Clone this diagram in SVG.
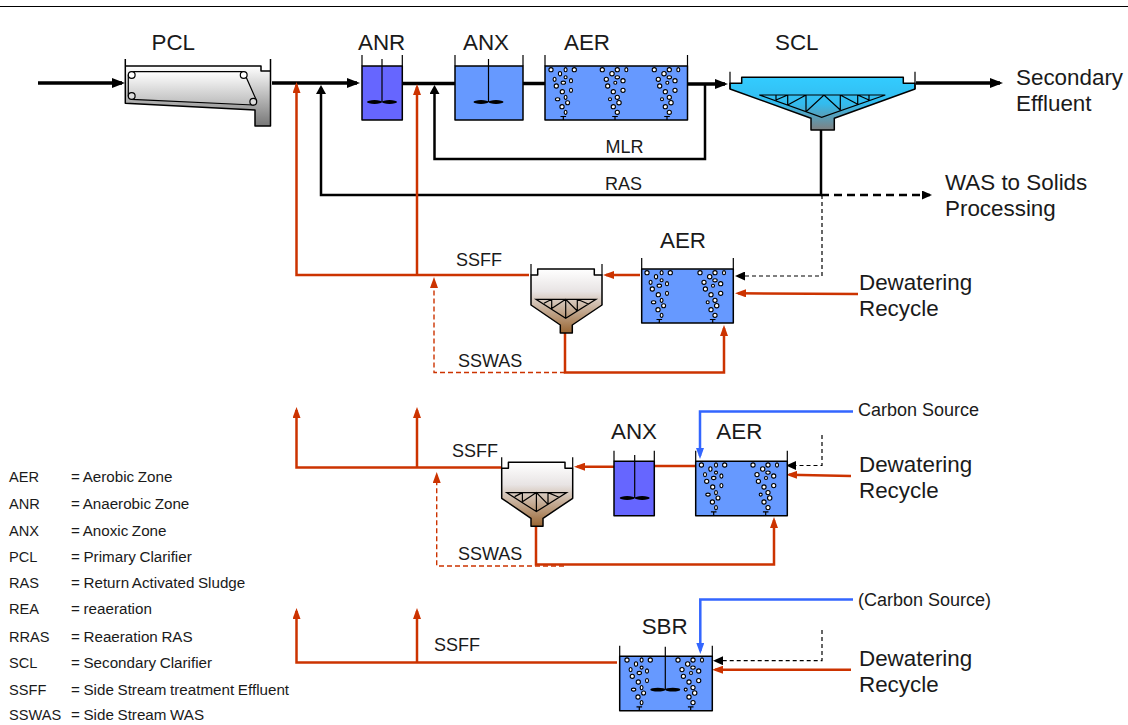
<svg xmlns="http://www.w3.org/2000/svg" width="1128" height="725" viewBox="0 0 1128 725">
<style>
text{font-family:"Liberation Sans",Arial,sans-serif;fill:#1a1a1a}
.t{font-size:22.4px}
.m{font-size:18px}
.l{font-size:14.6px}
.d{font-size:15.2px;word-spacing:-0.6px}
.wall{fill:none;stroke:#000;stroke-width:1.2}
.ol{stroke:#000;stroke-width:1.5;stroke-linejoin:round}
.tr{fill:none;stroke:#000;stroke-width:1.2}
.bl{fill:#fff;stroke:#000;stroke-width:1.1}
.k{fill:none;stroke:#000;stroke-width:3.5}
.k2{fill:none;stroke:#000;stroke-width:2.5}
.kd{fill:none;stroke:#000;stroke-width:2.5;stroke-dasharray:8 5}
.kt{fill:none;stroke:#000;stroke-width:1.2;stroke-dasharray:4 3}
.r{fill:none;stroke:#cc3300;stroke-width:2.5}
.rd{fill:none;stroke:#cc3300;stroke-width:1.4;stroke-dasharray:5 3}
.b{fill:none;stroke:#3366ff;stroke-width:2.5}
</style>
<defs>
<marker id="hk" viewBox="0 0 13 10" refX="10" refY="5" markerWidth="13" markerHeight="10" markerUnits="userSpaceOnUse" orient="auto"><path d="M0 0L13 5L0 10z" fill="#000"/></marker>
<marker id="hv" viewBox="0 0 9 10" refX="6" refY="5" markerWidth="9" markerHeight="10" markerUnits="userSpaceOnUse" orient="auto"><path d="M0 0L9 5L0 10z" fill="#000"/></marker>
<marker id="ht" viewBox="0 0 10 9" refX="8" refY="4.5" markerWidth="10" markerHeight="9" markerUnits="userSpaceOnUse" orient="auto"><path d="M0 0L10 4.5L0 9z" fill="#000"/></marker>
<marker id="hr" viewBox="0 0 11 8" refX="8" refY="4" markerWidth="11" markerHeight="8" markerUnits="userSpaceOnUse" orient="auto"><path d="M0 0L11 4L0 8z" fill="#cc3300"/></marker>
<marker id="hb" viewBox="0 0 11 8" refX="8" refY="4" markerWidth="11" markerHeight="8" markerUnits="userSpaceOnUse" orient="auto"><path d="M0 0L11 4L0 8z" fill="#3366ff"/></marker>
<linearGradient id="gp" x1="0" y1="0" x2="0" y2="1"><stop offset="0" stop-color="#fff"/><stop offset="1" stop-color="#777"/></linearGradient>
<linearGradient id="gi" x1="0" y1="0" x2="0" y2="1"><stop offset="0" stop-color="#fff"/><stop offset="1" stop-color="#bbb"/></linearGradient>
<linearGradient id="gs" x1="0" y1="0" x2="0" y2="1"><stop offset="0" stop-color="#33ccff"/><stop offset="0.5" stop-color="#33bbee"/><stop offset="1" stop-color="#808080"/></linearGradient>
<linearGradient id="gc" x1="0" y1="0" x2="0" y2="1"><stop offset="0" stop-color="#fff"/><stop offset="0.35" stop-color="#e8e4e4"/><stop offset="1" stop-color="#996633"/></linearGradient>
<g id="bA">
<circle class="bl" cx="-12.3" cy="3.7" r="2.1"/><ellipse class="bl" cx="2.3" cy="3.7" rx="1.5" ry="2.1"/><circle class="bl" cx="11" cy="3.7" r="2.1"/><ellipse class="bl" cx="-3.3" cy="7.7" rx="1.6" ry="2.2"/><circle class="bl" cx="2.3" cy="11.3" r="1.5"/><ellipse class="bl" cx="-8.7" cy="13.3" rx="1.5" ry="2.1"/><ellipse class="bl" cx="0" cy="16.7" rx="2.2" ry="1.6"/><ellipse class="bl" cx="7.7" cy="14.7" rx="1.5" ry="2.1"/><circle class="bl" cx="-7" cy="20" r="2.1"/><circle class="bl" cx="-1" cy="25.7" r="2.1"/><ellipse class="bl" cx="7.7" cy="24.3" rx="1.5" ry="2.1"/><ellipse class="bl" cx="2.3" cy="31.3" rx="1.4" ry="2.1"/><ellipse class="bl" cx="-5.7" cy="33.3" rx="2.2" ry="1.5"/><circle class="bl" cx="4.3" cy="36.7" r="2"/><circle class="bl" cx="-1.3" cy="40.7" r="2.1"/><ellipse class="bl" cx="2.3" cy="46.3" rx="1.4" ry="2.1"/>
<path d="M-2.8 50.5H2.8M0 50.5V54" fill="none" stroke="#000" stroke-width="1.2"/>
</g>
<g id="bB">
<circle class="bl" cx="-12.7" cy="3.7" r="2.1"/><circle class="bl" cx="2.3" cy="3.7" r="2.1"/><ellipse class="bl" cx="11.3" cy="3.7" rx="1.5" ry="2.1"/><circle class="bl" cx="-3" cy="7.7" r="2.2"/><ellipse class="bl" cx="2.3" cy="11.3" rx="2.2" ry="1.6"/><circle class="bl" cx="-8.7" cy="13.3" r="2.1"/><circle class="bl" cx="0.3" cy="16.7" r="1.5"/><circle class="bl" cx="8" cy="14.7" r="2.1"/><circle class="bl" cx="-7.3" cy="20" r="2.1"/><circle class="bl" cx="-1.7" cy="25.7" r="2.1"/><circle class="bl" cx="8" cy="24.3" r="2.1"/><circle class="bl" cx="2.3" cy="31.3" r="2.1"/><circle class="bl" cx="-5" cy="33.3" r="1.5"/><circle class="bl" cx="4" cy="36.7" r="2.2"/><circle class="bl" cx="-1.7" cy="40.7" r="2.1"/><circle class="bl" cx="2.3" cy="46.3" r="2.1"/>
<path d="M-2.8 50.5H2.8M0 50.5V54" fill="none" stroke="#000" stroke-width="1.2"/>
</g>
<g id="mix">
<path d="M0 0V43" fill="none" stroke="#000" stroke-width="1.2"/>
<ellipse cx="-7.5" cy="43" rx="7.5" ry="1.9" fill="#000"/><ellipse cx="7.5" cy="43" rx="7.5" ry="1.9" fill="#000"/>
</g>
<g id="clar">
<path class="ol" fill="url(#gc)" d="M0 11H6.7V5H63.3V11H71V41L41.3 61V69H29.3V61L0 41z"/>
<path class="wall" d="M0 0V11M71 0V11"/>
<path class="tr" d="M5 35.3H65L34.7 54.3zM20.7 35.3V44.5M34.7 35.3V54.3M46.3 35.3V47M13 39.3L20.7 35.3M20.7 44.5L34.7 35.3L46.3 47M46.3 35.3L57.3 40"/>
</g>
</defs>

<line x1="0" y1="6.5" x2="1128" y2="6.5" stroke="#000" stroke-width="1"/>

<g id="connectors">
<path class="k" d="M38 83H122" marker-end="url(#hk)"/>
<path class="k" d="M272 83H357" marker-end="url(#hk)"/>
<path class="k" d="M402 83.5H455"/>
<path class="k" d="M523 83.5H545"/>
<path class="k" d="M688 84H725" marker-end="url(#hk)"/>
<path class="k" d="M916 83H1000" marker-end="url(#hk)"/>
<path class="k2" d="M705 84V159H434.5V88" marker-end="url(#hv)"/>
<path class="k2" d="M821 130V195H321V88" marker-end="url(#hv)"/>
<path class="kd" d="M821 195H930" marker-end="url(#ht)"/>
<path class="kt" d="M822 195V276H737" marker-end="url(#ht)"/>
<path class="r" d="M529 275H296.5V85" marker-end="url(#hr)"/>
<path class="r" d="M417 275V87" marker-end="url(#hr)"/>
<path class="r" d="M640 275H606" marker-end="url(#hr)"/>
<path class="r" d="M858 294L738 293.3" marker-end="url(#hr)"/>
<path class="r" d="M565 333V372.5H724V328" marker-end="url(#hr)"/>
<path class="rd" d="M565 372.5H434V280" marker-end="url(#hr)"/>

<path class="r" d="M501 467.5H296.5V410" marker-end="url(#hr)"/>
<path class="r" d="M417 467.5V410" marker-end="url(#hr)"/>
<path class="r" d="M614 466.7H577" marker-end="url(#hr)"/>
<path class="r" d="M654 466H696"/>
<path class="b" d="M853 411.5H700V456" marker-end="url(#hb)"/>
<path class="kt" d="M822 435V465.5H788" marker-end="url(#ht)"/>
<path class="r" d="M851 476L789 474.7" marker-end="url(#hr)"/>
<path class="r" d="M536 526V564.5H774V520" marker-end="url(#hr)"/>
<path class="rd" d="M564 566H436.7V475" marker-end="url(#hr)"/>

<path class="r" d="M617 662.5H296.5V611" marker-end="url(#hr)"/>
<path class="r" d="M417 662.5V611" marker-end="url(#hr)"/>
<path class="b" d="M853 599.5H700.3V651" marker-end="url(#hb)"/>
<path class="kt" d="M822 630V660.7H715" marker-end="url(#ht)"/>
<path class="r" d="M851 669.7H715" marker-end="url(#hr)"/>
</g>

<g id="pcl">
<path d="M125.3 66H261V71H270.5V126H255V110L125.3 103.3z" fill="url(#gp)" stroke="none"/>
<path class="ol" fill="none" d="M125.3 66H261V71H270.5M270.5 59V126H255V110L125.3 103.3V59"/>
<path d="M131.7 71.7H243.7L256.5 100.5L253.3 105L131.7 99.3L128.3 96V75z" fill="url(#gi)" stroke="#000" stroke-width="1.2"/>
<circle cx="131.7" cy="75" r="3.4" fill="#fff" stroke="#000" stroke-width="1.2"/><circle cx="243.7" cy="75" r="3.4" fill="#fff" stroke="#000" stroke-width="1.2"/><circle cx="131.7" cy="96" r="3.4" fill="#ddd" stroke="#000" stroke-width="1.2"/><circle cx="253.3" cy="101.7" r="3.4" fill="#ddd" stroke="#000" stroke-width="1.2"/>
<text class="t" x="151.5" y="50">PCL</text>
</g>

<g id="anr">
<rect class="ol" x="362" y="66" width="40.3" height="54" fill="#6666ff"/>
<path class="wall" d="M362 55V66M402.3 55V66"/>
<use href="#mix" x="382" y="59"/>
<text class="t" x="358" y="50">ANR</text>
</g>

<g id="anx">
<rect class="ol" x="455" y="66" width="68" height="54" fill="#6699ff"/>
<path class="wall" d="M455 55V66M523 55V66"/>
<use href="#mix" x="488.5" y="59"/>
<text class="t" x="463" y="50">ANX</text>
</g>

<g id="aer">
<rect class="ol" x="545" y="66" width="142.5" height="54" fill="#6699ff"/>
<path class="wall" d="M545 55V66M687.5 55V66"/>
<use href="#bA" x="563.3" y="66"/><use href="#bB" x="615" y="66"/><use href="#bB" x="667" y="66"/>
<text class="t" x="564" y="50">AER</text>
</g>

<g id="scl">
<path class="ol" fill="url(#gs)" d="M730 83.3H741.7V77.3H903.3V83.3H915V89L834.3 118.3V130H811V118.3L730 89z"/>
<path class="wall" d="M730 71.7V89M915 71.7V89"/>
<path class="tr" d="M759.3 95H885.3L821.7 117.3zM776 95V100M787.7 95V105M806 95V111.7M840.3 95V110M857.7 95V104.3M869 95V100M776 100L787.7 95M787.7 105L806 95M806 111.7L824 95L840.3 110M840.3 95L857.7 104.3M857.7 95L869 100"/>
<text class="t" x="775" y="50">SCL</text>
</g>

<g id="aer2">
<rect class="ol" x="641.7" y="269" width="91.6" height="54" fill="#6699ff"/>
<path class="wall" d="M641.7 258V269M733.3 258V269"/>
<use href="#bA" x="659.3" y="269"/><use href="#bB" x="712.7" y="269"/>
<text class="t" x="660" y="248">AER</text>
</g>
<use id="clar1" href="#clar" x="531" y="264"/>

<use id="clar2" href="#clar" x="501.7" y="457.3"/>
<g id="anx3">
<rect class="ol" x="614" y="461.3" width="40.3" height="54.4" fill="#6666ff"/>
<path class="wall" d="M614 450.7V461.3M654.3 450.7V461.3"/>
<use href="#mix" x="634.7" y="455"/>
<text class="t" x="611" y="439.3">ANX</text>
</g>
<g id="aer3">
<rect class="ol" x="695.7" y="461.3" width="91.6" height="54.4" fill="#6699ff"/>
<path class="wall" d="M695.7 450.7V461.3M787.3 450.7V461.3"/>
<use href="#bA" x="713.7" y="461.3"/><use href="#bB" x="765.7" y="461.3"/>
<text class="t" x="716.3" y="439.3">AER</text>
</g>

<g id="sbr">
<rect class="ol" x="619.7" y="656.3" width="92.6" height="54.4" fill="#6699ff"/>
<path class="wall" d="M619.7 645.7V656.3M712.3 645.7V656.3"/>
<use href="#bA" x="639.3" y="656.3"/><use href="#bB" x="690.7" y="656.3"/>
<use href="#mix" x="665.3" y="646.7"/>
<text class="t" x="641.7" y="634.3">SBR</text>
</g>

<g id="labels">
<text class="t" x="1016" y="85">Secondary</text><text class="t" x="1016" y="111">Effluent</text>
<text class="t" x="945" y="190">WAS to Solids</text><text class="t" x="945" y="216">Processing</text>
<text class="t" x="859" y="290">Dewatering</text><text class="t" x="859" y="316">Recycle</text>
<text class="t" x="859" y="472">Dewatering</text><text class="t" x="859" y="498">Recycle</text>
<text class="t" x="859" y="666">Dewatering</text><text class="t" x="859" y="692">Recycle</text>
<text class="m" x="605.5" y="153">MLR</text><text class="m" x="605" y="190">RAS</text>
<text class="m" x="456" y="266">SSFF</text><text class="m" x="458" y="367">SSWAS</text>
<text class="m" x="452" y="457">SSFF</text><text class="m" x="458" y="560">SSWAS</text>
<text class="m" x="434" y="651">SSFF</text>
<text class="m" x="858" y="415.5">Carbon Source</text><text class="m" x="858" y="605.5">(Carbon Source)</text>
</g>

<g id="legend">
<text class="l" x="9" y="482">AER</text><text class="d" x="71" y="482">= Aerobic Zone</text>
<text class="l" x="9" y="509">ANR</text><text class="d" x="71" y="509">= Anaerobic Zone</text>
<text class="l" x="9" y="536">ANX</text><text class="d" x="71" y="536">= Anoxic Zone</text>
<text class="l" x="9" y="562">PCL</text><text class="d" x="71" y="562">= Primary Clarifier</text>
<text class="l" x="9" y="588">RAS</text><text class="d" x="71" y="588">= Return Activated Sludge</text>
<text class="l" x="9" y="614">REA</text><text class="d" x="71" y="614">= reaeration</text>
<text class="l" x="9" y="642">RRAS</text><text class="d" x="71" y="642">= Reaeration RAS</text>
<text class="l" x="9" y="668">SCL</text><text class="d" x="71" y="668">= Secondary Clarifier</text>
<text class="l" x="9" y="695">SSFF</text><text class="d" x="71" y="695">= Side Stream treatment Effluent</text>
<text class="l" x="9" y="720">SSWAS</text><text class="d" x="71" y="720">= Side Stream WAS</text>
</g>
</svg>
